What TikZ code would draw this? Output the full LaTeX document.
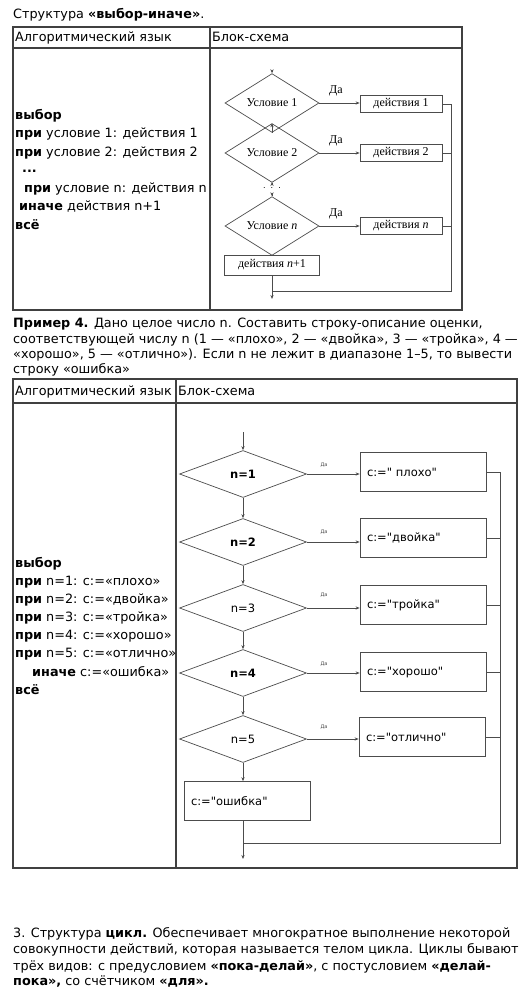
\documentclass[tikz,border=0pt]{standalone}
\usepackage{fontspec}
\setmainfont{DejaVu Sans}[Ligatures=TeXOff]
\newfontfamily\seriffont{Liberation Serif}
\usetikzlibrary{shapes.geometric,arrows.meta}
\begin{document}
\begin{tikzpicture}[x=1pt,y=-1pt,
  txt/.style={anchor=base west, inner sep=0pt, font=\fontsize{12.8}{15}\selectfont},
  tbl/.style={draw=black!75, line width=1.3pt},
  fl/.style={draw=black!70, line width=0.7pt},
  arr/.style={fl, -{Stealth[length=4pt,width=3.2pt]}},
  sdia/.style={diamond, fl, inner sep=0pt, minimum width=94pt, minimum height=36pt, font=\seriffont\fontsize{12}{14}\selectfont},
  sbox/.style={rectangle, fl, inner sep=0pt, minimum width=82pt, minimum height=17pt, font=\seriffont\fontsize{12}{14}\selectfont},
  bdia/.style={diamond, fl, inner sep=0pt, minimum width=127pt, minimum height=47pt, font=\fontsize{11.5}{13}\selectfont},
  bbox/.style={rectangle, fl, inner sep=0pt, minimum width=126pt, minimum height=39pt, font=\fontsize{11.5}{13}\selectfont, text width=112pt, align=left},
  da/.style={inner sep=0pt, font=\seriffont\fontsize{12}{14}\selectfont},
  tda/.style={inner sep=0pt, font=\fontsize{5}{6}\selectfont, text=black!70}
]
\useasboundingbox (0,0) rectangle (520,995);
\clip (0,0) rectangle (520,995);
\fill[white] (0,0) rectangle (520,995);

% ---------- title ----------
\node[txt] (title) at (13,19) {Структура \textbf{«выбор-иначе»}.};

% ---------- top table ----------
\draw[tbl] (13,27) rectangle (462,310);
\draw[tbl] (13,48) -- (462,48);
\draw[tbl] (210,27) -- (210,310);
\node[txt] (h1) at (15,42) {Алгоритмический язык};
\node[txt] (h2) at (212,42) {Блок-схема};

\node[txt] (a1) at (15,120) {\textbf{выбор}};
\node[txt] (a2) at (15,138) {\textbf{при} условие 1: действия 1};
\node[txt] (a3) at (15,157) {\textbf{при} условие 2: действия 2};
\node[txt] (a4) at (22,172) {\textbf{...}};
\node[txt] (a5) at (24,193) {\textbf{при} условие n: действия n};
\node[txt] (a6) at (19,211) {\textbf{иначе} действия n+1};
\node[txt] (a7) at (15,229) {\textbf{всё}};

% top flowchart
\coordinate (t0) at (272,72);
\node[sdia] (d1) at (272,103) {Условие 1};
\node[sdia] (d2) at (272,153) {Условие 2};
\node[sdia] (dn) at (272,226) {Условие \textit{n}};
\node[sbox] (b1) at (401,104) {действия 1};
\node[sbox] (b2) at (401,153) {действия 2};
\node[sbox] (bn) at (401,226) {действия \textit{n}};
\node[sbox, minimum width=95pt, minimum height=20pt] (bn1) at (272,265) {действия \textit{n}+1};
\node[da] (y1) at (336,91) {Да};
\node[da] (y2) at (336,141) {Да};
\node[da] (yn) at (336,214) {Да};
\node[inner sep=0pt, font=\fontsize{8}{8}\selectfont] (dots) at (272,188) {.\ \ .\ \ .};
\coordinate (c2) at (272,182);
\coordinate (c3) at (272,196);
\coordinate (rj) at (451,291);
\coordinate (jn) at (272,291);
\coordinate (te) at (272,299);
\draw[arr] (t0) -- (d1.north);
\draw[arr] (d1.south) -- (d2.north);
\draw[arr] (d2.south) -- (c2);
\draw[arr] (c3) -- (dn.north);
\draw[fl] (dn.south) -- (bn1.north);
\draw[arr] (d1.east) -- (d1.east -| b1.west);
\draw[arr] (d2.east) -- (d2.east -| b2.west);
\draw[arr] (dn.east) -- (dn.east -| bn.west);
\draw[fl] (b1.east) -| (rj) -- (jn);
\draw[fl] (b2.east) -- (b2.east -| rj);
\draw[fl] (bn.east) -- (bn.east -| rj);
\draw[arr] (bn1.south) -- (te);

% ---------- example paragraph ----------
\node[txt] (p1) at (13,327) {\textbf{Пример 4.} Дано целое число n. Составить строку-описание оценки,};
\node[txt] (p2) at (13,343) {соответствующей числу n (1 — «плохо», 2 — «двойка», 3 — «тройка», 4 —};
\node[txt] (p3) at (13,358) {«хорошо», 5 — «отлично»). Если n не лежит в диапазоне 1–5, то вывести};
\node[txt] (p4) at (13,373) {строку «ошибка»};

% ---------- bottom table ----------
\draw[tbl] (13,379) rectangle (517,868);
\draw[tbl] (13,403) -- (517,403);
\draw[tbl] (176,379) -- (176,868);
\node[txt] (g1) at (15,395) {Алгоритмический язык};
\node[txt] (g2) at (178,395) {Блок-схема};

\node[txt] (e1) at (15,567) {\textbf{выбор}};
\node[txt] (e2) at (15,585) {\textbf{при} n=1: с:=«плохо»};
\node[txt] (e3) at (15,603) {\textbf{при} n=2: с:=«двойка»};
\node[txt] (e4) at (15,621) {\textbf{при} n=3: с:=«тройка»};
\node[txt] (e5) at (15,639) {\textbf{при} n=4: с:=«хорошо»};
\node[txt] (e6) at (15,657) {\textbf{при} n=5: с:=«отлично»};
\node[txt] (e7) at (32,676) {\textbf{иначе} с:=«ошибка»};
\node[txt] (e8) at (15,694) {\textbf{всё}};

% bottom flowchart
\coordinate (s0) at (243,432);
\node[bdia] (D1) at (243,474) {\textbf{n=1}};
\node[bdia] (D2) at (243,542) {\textbf{n=2}};
\node[bdia] (D3) at (243,608) {n=3};
\node[bdia] (D4) at (243,673) {\textbf{n=4}};
\node[bdia] (D5) at (243,739) {n=5};
\node[bbox] (B1) at (423,472) {с:=" плохо"};
\node[bbox] (B2) at (423,538) {с:="двойка"};
\node[bbox] (B3) at (423,605) {с:="тройка"};
\node[bbox] (B4) at (423,672) {с:="хорошо"};
\node[bbox] (B5) at (422,737) {с:="отлично"};
\node[bbox] (E) at (247,801) {с:="ошибка"};
\node[tda] (Y1) at (324,465) {Да};
\node[tda] (Y2) at (324,532) {Да};
\node[tda] (Y3) at (324,595) {Да};
\node[tda] (Y4) at (324,664) {Да};
\node[tda] (Y5) at (324,727) {Да};
\coordinate (R) at (500,843);
\coordinate (J) at (243,843);
\coordinate (S) at (243,859);
\draw[arr] (s0) -- (D1.north);
\draw[arr] (D1.south) -- (D2.north);
\draw[arr] (D2.south) -- (D3.north);
\draw[arr] (D3.south) -- (D4.north);
\draw[arr] (D4.south) -- (D5.north);
\draw[arr] (D5.south) -- (D5.south |- E.north);
\draw[arr] (D1.east) -- (D1.east -| B1.west);
\draw[arr] (D2.east) -- (D2.east -| B2.west);
\draw[arr] (D3.east) -- (D3.east -| B3.west);
\draw[arr] (D4.east) -- (D4.east -| B4.west);
\draw[arr] (D5.east) -- (D5.east -| B5.west);
\draw[fl] (B1.east) -| (R) -- (J);
\draw[fl] (B2.east) -- (B2.east -| R);
\draw[fl] (B3.east) -- (B3.east -| R);
\draw[fl] (B4.east) -- (B4.east -| R);
\draw[fl] (B5.east) -- (B5.east -| R);
\draw[arr] (J |- E.south) -- (S);

% ---------- closing paragraph ----------
\node[txt] (q1) at (13,937) {3. Структура \textbf{цикл.} Обеспечивает многократное выполнение некоторой};
\node[txt] (q2) at (13,953) {совокупности действий, которая называется телом цикла. Циклы бывают};
\node[txt] (q3) at (13,970) {трёх видов: с предусловием \textbf{«пока-делай»}, с постусловием \textbf{«делай-}};
\node[txt] (q4) at (13,985) {\textbf{пока»,} со счётчиком \textbf{«для».}};
\end{tikzpicture}
\end{document}
